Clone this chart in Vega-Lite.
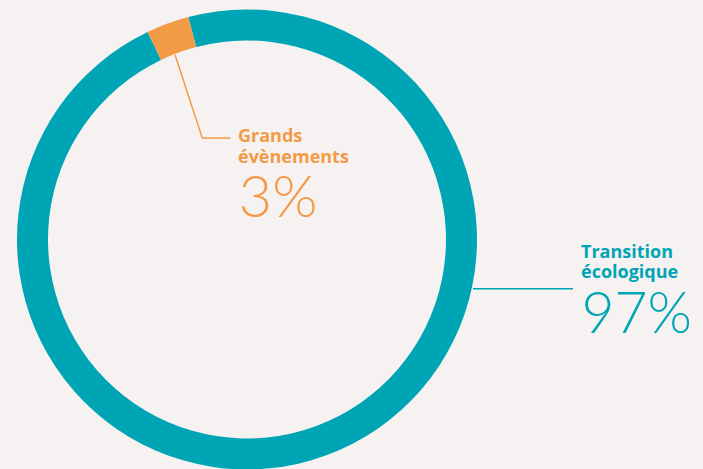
{
  "$schema": "https://vega.github.io/schema/vega-lite/v6.json",
  "width": 703,
  "height": 469,
  "autosize": {"type": "fit", "contains": "padding"},
  "padding": 0,
  "background": "#f5f2f1",
  "config": {"view": {"stroke": null}},
  "data": {
    "values": [
      {"category": "Transition écologique", "share": 0.97},
      {"category": "Grands évènements", "share": 0.03}
    ]
  },
  "layer": [
    {
      "mark": {"type": "arc", "innerRadius": 199, "outerRadius": 230},
      "encoding": {
        "x": {"datum": 247, "type": "quantitative", "scale": {"domain": [0, 703], "nice": false, "zero": false}, "axis": null},
        "y": {"datum": 240.5, "type": "quantitative", "scale": {"domain": [0, 469], "nice": false, "zero": false, "reverse": true}, "axis": null},
        "theta": {"field": "share", "type": "quantitative", "stack": true, "scale": {"range": [-0.4468, 5.8364]}},
        "order": {"field": "share", "sort": "ascending"},
        "color": {"field": "category", "type": "nominal", "scale": {"domain": ["Transition écologique", "Grands évènements"], "range": ["#00a5b5", "#f39a46"]}, "legend": null}
      }
    },
    {
      "data": {"values": [{}]},
      "mark": {"type": "rule", "color": "#f39a46", "strokeWidth": 1.5},
      "encoding": {
        "x": {"datum": 175, "type": "quantitative", "scale": {"domain": [0, 703], "nice": false, "zero": false}, "axis": null},
        "y": {"datum": 55, "type": "quantitative", "scale": {"domain": [0, 469], "nice": false, "zero": false, "reverse": true}, "axis": null},
        "x2": {"datum": 202.3},
        "y2": {"datum": 138.7}
      }
    },
    {
      "data": {"values": [{}]},
      "mark": {"type": "rule", "color": "#f39a46", "strokeWidth": 1.5},
      "encoding": {
        "x": {"datum": 202.3, "type": "quantitative", "scale": {"domain": [0, 703], "nice": false, "zero": false}, "axis": null},
        "y": {"datum": 138.7, "type": "quantitative", "scale": {"domain": [0, 469], "nice": false, "zero": false, "reverse": true}, "axis": null},
        "x2": {"datum": 230.7},
        "y2": {"datum": 138.7}
      }
    },
    {
      "data": {"values": [{}]},
      "mark": {"type": "rule", "color": "#00a5b5", "strokeWidth": 1.5},
      "encoding": {
        "x": {"datum": 473, "type": "quantitative", "scale": {"domain": [0, 703], "nice": false, "zero": false}, "axis": null},
        "y": {"datum": 290, "type": "quantitative", "scale": {"domain": [0, 469], "nice": false, "zero": false, "reverse": true}, "axis": null},
        "x2": {"datum": 573},
        "y2": {"datum": 290}
      }
    },
    {
      "transform": [{"filter": "datum.category === 'Grands évènements'"}],
      "mark": {"type": "text", "align": "left", "baseline": "alphabetic", "font": "Open Sans", "fontWeight": "bold", "fontSize": 18, "lineBreak": " ", "lineHeight": 20.6},
      "encoding": {
        "x": {"datum": 238, "type": "quantitative", "scale": {"domain": [0, 703], "nice": false, "zero": false}, "axis": null},
        "y": {"datum": 142.7, "type": "quantitative", "scale": {"domain": [0, 469], "nice": false, "zero": false, "reverse": true}, "axis": null},
        "text": {"field": "category"},
        "color": {"field": "category", "type": "nominal", "scale": {"domain": ["Transition écologique", "Grands évènements"], "range": ["#00a5b5", "#f39a46"]}, "legend": null}
      }
    },
    {
      "transform": [{"filter": "datum.category === 'Grands évènements'"}],
      "mark": {"type": "text", "align": "left", "baseline": "alphabetic", "font": "Lato", "fontWeight": 300, "fontSize": 58},
      "encoding": {
        "x": {"datum": 238.5, "type": "quantitative", "scale": {"domain": [0, 703], "nice": false, "zero": false}, "axis": null},
        "y": {"datum": 218.3, "type": "quantitative", "scale": {"domain": [0, 469], "nice": false, "zero": false, "reverse": true}, "axis": null},
        "text": {"field": "share", "type": "quantitative", "format": ".0%"},
        "color": {"field": "category", "type": "nominal", "scale": {"domain": ["Transition écologique", "Grands évènements"], "range": ["#00a5b5", "#f39a46"]}, "legend": null}
      }
    },
    {
      "transform": [{"filter": "datum.category === 'Transition écologique'"}],
      "mark": {"type": "text", "align": "left", "baseline": "alphabetic", "font": "Open Sans", "fontWeight": "bold", "fontSize": 18, "lineBreak": " ", "lineHeight": 20.5},
      "encoding": {
        "x": {"datum": 581, "type": "quantitative", "scale": {"domain": [0, 703], "nice": false, "zero": false}, "axis": null},
        "y": {"datum": 259, "type": "quantitative", "scale": {"domain": [0, 469], "nice": false, "zero": false, "reverse": true}, "axis": null},
        "text": {"field": "category"},
        "color": {"field": "category", "type": "nominal", "scale": {"domain": ["Transition écologique", "Grands évènements"], "range": ["#00a5b5", "#f39a46"]}, "legend": null}
      }
    },
    {
      "transform": [{"filter": "datum.category === 'Transition écologique'"}],
      "mark": {"type": "text", "align": "left", "baseline": "alphabetic", "font": "Lato", "fontWeight": 300, "fontSize": 57},
      "encoding": {
        "x": {"datum": 581.5, "type": "quantitative", "scale": {"domain": [0, 703], "nice": false, "zero": false}, "axis": null},
        "y": {"datum": 334, "type": "quantitative", "scale": {"domain": [0, 469], "nice": false, "zero": false, "reverse": true}, "axis": null},
        "text": {"field": "share", "type": "quantitative", "format": ".0%"},
        "color": {"field": "category", "type": "nominal", "scale": {"domain": ["Transition écologique", "Grands évènements"], "range": ["#00a5b5", "#f39a46"]}, "legend": null}
      }
    }
  ]
}
